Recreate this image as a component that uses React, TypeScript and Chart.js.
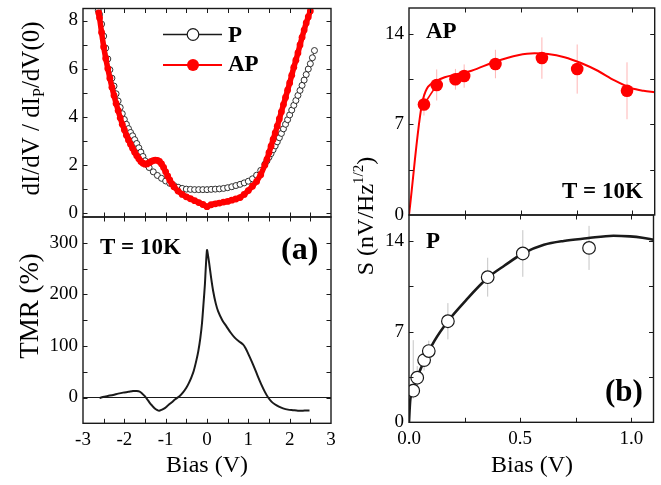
import React, { useEffect, useRef } from "react";
import { Chart, registerables } from "chart.js";

Chart.register(...registerables);

const W = 661;
const H = 485;
const FONT = "Liberation Serif, Times New Roman, serif";
Chart.defaults.font.family = FONT;
const RED = "#ff0000";
const INK = "#1a1a1a";
const Y_AXIS_W = 60;
const X_AXIS_H = 32;

// ---------- (a) top: dI/dV normalised ----------
const pBias = [-2.63, -2.6, -2.55, -2.5, -2.45, -2.4, -2.35, -2.3, -2.25, -2.2, -2.15, -2.1, -2.05, -2.0, -1.95, -1.9, -1.85, -1.8, -1.75, -1.7, -1.65, -1.6, -1.55, -1.5, -1.45, -1.4, -1.3, -1.2, -1.1, -1.0, -0.9, -0.8, -0.7, -0.6, -0.5, -0.4, -0.3, -0.2, -0.1, 0, 0.1, 0.2, 0.3, 0.4, 0.5, 0.6, 0.7, 0.8, 0.9, 1.0, 1.1, 1.2, 1.3, 1.4, 1.45, 1.5, 1.55, 1.6, 1.65, 1.7, 1.75, 1.8, 1.85, 1.9, 1.95, 2.0, 2.05, 2.1, 2.15, 2.2, 2.25, 2.3, 2.35, 2.4, 2.45, 2.5, 2.55, 2.6];
const pDidv = [8.42, 8.25, 7.85, 7.35, 6.85, 6.4, 5.95, 5.6, 5.27, 4.95, 4.65, 4.38, 4.12, 3.88, 3.68, 3.5, 3.34, 3.2, 3.04, 2.88, 2.7, 2.52, 2.34, 2.16, 2.0, 1.88, 1.7, 1.55, 1.43, 1.32, 1.22, 1.13, 1.06, 1.01, 0.98, 0.97, 0.96, 0.96, 0.96, 0.96, 0.97, 0.98, 0.99, 1.01, 1.04, 1.08, 1.13, 1.18, 1.24, 1.31, 1.41, 1.56, 1.76, 2.02, 2.16, 2.31, 2.46, 2.62, 2.78, 2.95, 3.12, 3.3, 3.49, 3.68, 3.87, 4.07, 4.27, 4.47, 4.67, 4.88, 5.09, 5.3, 5.52, 5.75, 5.98, 6.2, 6.45, 6.75];

const apBias = [-2.62, -2.6, -2.55, -2.5, -2.45, -2.4, -2.35, -2.3, -2.25, -2.2, -2.15, -2.1, -2.05, -2.0, -1.95, -1.9, -1.85, -1.8, -1.75, -1.7, -1.65, -1.6, -1.55, -1.5, -1.45, -1.4, -1.35, -1.3, -1.25, -1.2, -1.15, -1.1, -1.05, -1.0, -0.95, -0.9, -0.85, -0.8, -0.7, -0.6, -0.5, -0.4, -0.3, -0.2, -0.1, 0, 0.1, 0.2, 0.3, 0.4, 0.5, 0.6, 0.7, 0.8, 0.9, 1.0, 1.1, 1.2, 1.3, 1.4, 1.45, 1.5, 1.55, 1.6, 1.65, 1.7, 1.75, 1.8, 1.85, 1.9, 1.95, 2.0, 2.05, 2.1, 2.15, 2.2, 2.25, 2.3, 2.35, 2.4, 2.45, 2.5];
const apDidv = [8.32, 8.12, 7.5, 6.9, 6.42, 6.0, 5.6, 5.22, 4.88, 4.55, 4.25, 3.95, 3.68, 3.45, 3.22, 3.03, 2.85, 2.68, 2.52, 2.37, 2.24, 2.13, 2.06, 2.02, 2.03, 2.08, 2.13, 2.17, 2.19, 2.18, 2.13, 2.03, 1.88, 1.7, 1.52, 1.35, 1.2, 1.08, 0.9, 0.76, 0.66, 0.58, 0.5, 0.42, 0.34, 0.25, 0.33, 0.37, 0.4, 0.44, 0.47, 0.52, 0.57, 0.63, 0.76, 0.92, 1.1, 1.3, 1.58, 1.98, 2.22, 2.5, 2.77, 3.05, 3.32, 3.6, 3.9, 4.2, 4.5, 4.8, 5.1, 5.4, 5.72, 6.05, 6.35, 6.65, 6.98, 7.3, 7.6, 7.9, 8.15, 8.4];

// ---------- (a) bottom: TMR ----------
const tmrBias = [-2.6, -2.52, -2.4, -2.27, -2.15, -2.03, -1.9, -1.79, -1.7, -1.63, -1.57, -1.51, -1.45, -1.39, -1.33, -1.27, -1.2, -1.16, -1.1, -1.02, -0.94, -0.86, -0.76, -0.66, -0.58, -0.5, -0.44, -0.38, -0.32, -0.26, -0.21, -0.16, -0.12, -0.08, -0.05, -0.03, 0, 0.02, 0.05, 0.1, 0.15, 0.21, 0.27, 0.37, 0.47, 0.57, 0.67, 0.77, 0.87, 0.93, 0.99, 1.07, 1.15, 1.23, 1.31, 1.4, 1.48, 1.56, 1.64, 1.74, 1.84, 1.96, 2.08, 2.2, 2.32, 2.4, 2.48];
const tmrValue = [-1, 1, 3, 5, 7.5, 9.5, 11, 12.5, 12.5, 11.5, 8, 3, -3, -9.7, -15.5, -20.6, -24.5, -25.8, -24, -20.6, -15, -9.7, -3, 3, 10, 19, 28, 38.7, 52, 71, 90, 116, 145, 187, 220, 251, 286, 278, 262, 232, 206, 183, 167, 150, 138, 126, 116, 109, 103, 96, 86, 72, 57, 41, 26, 11, 0, -8, -13, -17.5, -21, -23.5, -24.5, -25.5, -25.5, -25, -25];
const zeroBias = [-3, 3];
const zeroValue = [0, 0];

// ---------- (b) top: AP noise ----------
const apNoiseBias = [0.067, 0.124, 0.208, 0.247, 0.387, 0.595, 0.753, 0.976];
const apNoise = [8.54, 10.05, 10.49, 10.74, 11.67, 12.13, 11.28, 9.6];
const apNoiseErr = [0.85, 1.2, 0.8, 0.9, 1.1, 1.6, 1.9, 2.2];
const apFitBias = [0, 0.062, 0.124, 0.16, 0.207, 0.28, 0.387, 0.488, 0.562, 0.622, 0.696, 0.77, 0.845, 0.92, 0.994, 1.05, 1.1];
const apFit = [0, 8.9, 10.35, 10.65, 10.85, 11.15, 11.86, 12.35, 12.5, 12.45, 12.2, 11.75, 11.15, 10.4, 9.82, 9.6, 9.49];

// ---------- (b) bottom: P noise ----------
const pNoiseBias = [0.019, 0.037, 0.068, 0.089, 0.175, 0.354, 0.512, 0.81];
const pNoise = [2.44, 3.44, 4.8, 5.5, 7.8, 11.2, 13.03, 13.46];
const pNoiseErrUp = [3.9, 0.9, 0.8, 0.8, 1.4, 1.5, 1.8, 1.7];
const pNoiseErrDown = [0.6, 0.9, 0.8, 0.8, 1.4, 1.5, 1.8, 1.7];
const pFitBias = [0, 0.005, 0.016, 0.04, 0.07, 0.115, 0.175, 0.25, 0.354, 0.43, 0.512, 0.607, 0.696, 0.8, 0.92, 0.994, 1.05, 1.1];
const pFit = [0, 1.6, 2.4, 3.6, 4.8, 6.3, 7.8, 9.3, 11.15, 12.1, 13.03, 13.7, 14.0, 14.2, 14.4, 14.35, 14.25, 14.1];

// ---------- ticks ----------
const biasTicks = [-3, -2, -1, 0, 1, 2, 3];
const biasMarks = [-2.5, -2, -1.5, -1, -0.5, 0, 0.5, 1, 1.5, 2, 2.5];
const didvTicks = [0, 2, 4, 6, 8];
const didvMarks = [0, 1, 2, 3, 4, 5, 6, 7, 8];
const tmrTicks = [0, 100, 200, 300];
const tmrMarks = [0, 50, 100, 150, 200, 250, 300];
const noiseBiasTicks = [0, 0.5, 1.0];
const noiseBiasMarks = [0.25, 0.5, 0.75, 1.0];
const noiseTicks = [0, 7, 14];
const noiseMarks = [3.5, 7, 10.5, 14];

const pts = (xs: number[], ys: number[]) => xs.map((x, i) => ({ x, y: ys[i] }));

type Box = { l: number; t: number; r: number; b: number };

function axis(min: number, max: number, ticks: number[], show: boolean, fmt?: (v: number) => string) {
  return {
    type: "linear",
    min,
    max,
    grid: { display: false, drawTicks: false },
    border: { display: false },
    ticks: {
      display: show,
      autoSkip: false,
      maxRotation: 0,
      color: "#000",
      font: { family: FONT, size: 19, weight: "normal" },
      padding: 5,
      callback: (v: any) => (fmt ? fmt(Number(v)) : String(v)),
    },
    afterBuildTicks: (s: any) => {
      s.ticks = ticks.map((v) => ({ value: v }));
    },
    afterFit: (s: any) => {
      if (s.isHorizontal()) s.height = X_AXIS_H;
      else s.width = Y_AXIS_W;
      s.paddingTop = 0;
      s.paddingBottom = 0;
      s.paddingLeft = 0;
      s.paddingRight = 0;
    },
  };
}

type Part = { t: string; size: number; dy?: number; bold?: boolean };

function drawRich(ctx: CanvasRenderingContext2D, parts: Part[], x: number, y: number, rot: number) {
  ctx.save();
  ctx.translate(x, y);
  ctx.rotate(rot);
  ctx.textBaseline = "alphabetic";
  ctx.fillStyle = "#000";
  let total = 0;
  for (const p of parts) {
    ctx.font = `${p.bold ? "bold " : ""}${p.size}px ${FONT}`;
    total += ctx.measureText(p.t).width;
  }
  let cx = -total / 2;
  for (const p of parts) {
    ctx.font = `${p.bold ? "bold " : ""}${p.size}px ${FONT}`;
    ctx.textAlign = "left";
    ctx.fillText(p.t, cx, p.dy || 0);
    cx += ctx.measureText(p.t).width;
  }
  ctx.restore();
}

function boldText(ctx: CanvasRenderingContext2D, t: string, x: number, y: number, size: number) {
  ctx.save();
  ctx.font = `bold ${size}px ${FONT}`;
  ctx.fillStyle = "#000";
  ctx.textAlign = "left";
  ctx.textBaseline = "middle";
  ctx.fillText(t, x, y);
  ctx.restore();
}

function framePlugin(id: string, xMarks: number[], yMarks: number[], extra?: (ctx: CanvasRenderingContext2D, chart: any) => void) {
  return {
    id,
    afterDraw(chart: any) {
      const { ctx, chartArea: a } = chart;
      const xs = chart.scales.x;
      const ys = chart.scales.y;
      const TL = 4.5;
      ctx.save();
      ctx.strokeStyle = INK;
      ctx.lineWidth = 1;
      ctx.beginPath();
      for (const v of xMarks) {
        const px = Math.round(xs.getPixelForValue(v)) + 0.5;
        ctx.moveTo(px, a.bottom);
        ctx.lineTo(px, a.bottom - TL);
        ctx.moveTo(px, a.top);
        ctx.lineTo(px, a.top + TL);
      }
      for (const v of yMarks) {
        const py = Math.round(ys.getPixelForValue(v)) + 0.5;
        ctx.moveTo(a.left, py);
        ctx.lineTo(a.left + TL, py);
        ctx.moveTo(a.right, py);
        ctx.lineTo(a.right - TL, py);
      }
      ctx.stroke();
      ctx.lineWidth = 1.4;
      ctx.strokeRect(a.left, a.top, a.right - a.left, a.bottom - a.top);
      if (extra) extra(ctx, chart);
      ctx.restore();
    },
  };
}

function errorPlugin(id: string, xs: number[], ys: number[], up: number[], down: number[], color: string) {
  return {
    id,
    beforeDatasetsDraw(chart: any) {
      const { ctx, chartArea: a } = chart;
      const sx = chart.scales.x;
      const sy = chart.scales.y;
      ctx.save();
      ctx.beginPath();
      ctx.rect(a.left, a.top, a.right - a.left, a.bottom - a.top);
      ctx.clip();
      ctx.strokeStyle = color;
      ctx.lineWidth = 1;
      ctx.beginPath();
      xs.forEach((x, i) => {
        const px = sx.getPixelForValue(x);
        ctx.moveTo(px, sy.getPixelForValue(ys[i] - down[i]));
        ctx.lineTo(px, sy.getPixelForValue(ys[i] + up[i]));
      });
      ctx.stroke();
      ctx.restore();
    },
  };
}

function padOf(b: Box) {
  return { left: b.l - Y_AXIS_W, top: b.t, right: W - b.r, bottom: H - b.b - X_AXIS_H };
}

function baseOptions(b: Box, x: any, y: any) {
  return {
    responsive: false,
    animation: false,
    devicePixelRatio: 1,
    layout: { padding: padOf(b) },
    plugins: { legend: { display: false }, tooltip: { enabled: false } },
    events: [],
    scales: { x, y },
  };
}

export default function App() {
  const r1 = useRef<HTMLCanvasElement>(null);
  const r2 = useRef<HTMLCanvasElement>(null);
  const r3 = useRef<HTMLCanvasElement>(null);
  const r4 = useRef<HTMLCanvasElement>(null);

  useEffect(() => {
    const charts: Chart[] = [];

    // top-left: dI/dV
    charts.push(
      new Chart(r1.current!, {
        type: "scatter",
        data: {
          datasets: [
            {
              data: pts(apBias, apDidv),
              showLine: true,
              borderColor: RED,
              borderWidth: 5.5,
              pointRadius: 3.4,
              pointBackgroundColor: RED,
              pointBorderWidth: 0,
            },
            {
              data: pts(pBias, pDidv),
              showLine: true,
              borderColor: INK,
              borderWidth: 0.8,
              pointRadius: 3,
              pointBackgroundColor: "#fff",
              pointBorderColor: INK,
              pointBorderWidth: 0.9,
            },
          ],
        },
        options: baseOptions({ l: 83, t: 8.5, r: 331, b: 217 }, axis(-3, 3, biasTicks, false), axis(-0.18, 8.5, didvTicks, true)) as any,
        plugins: [
          framePlugin("f1", biasMarks, didvMarks, (ctx) => {
            drawRich(ctx, [{ t: "dI/dV / dI", size: 25 }, { t: "P", size: 16, dy: 5 }, { t: "/dV(0)", size: 25 }], 39, 108.5, -Math.PI / 2);
            // legend
            ctx.lineWidth = 1.6;
            ctx.strokeStyle = INK;
            ctx.beginPath();
            ctx.moveTo(163, 34.5);
            ctx.lineTo(222, 34.5);
            ctx.stroke();
            ctx.beginPath();
            ctx.arc(193, 34.5, 5.8, 0, Math.PI * 2);
            ctx.fillStyle = "#fff";
            ctx.fill();
            ctx.lineWidth = 1.2;
            ctx.stroke();
            ctx.strokeStyle = RED;
            ctx.lineWidth = 1.8;
            ctx.beginPath();
            ctx.moveTo(163, 65);
            ctx.lineTo(222, 65);
            ctx.stroke();
            ctx.beginPath();
            ctx.arc(193, 65, 6, 0, Math.PI * 2);
            ctx.fillStyle = RED;
            ctx.fill();
            boldText(ctx, "P", 228, 36, 23);
            boldText(ctx, "AP", 228, 65, 23);
          }),
        ] as any,
      })
    );

    // bottom-left: TMR
    charts.push(
      new Chart(r2.current!, {
        type: "scatter",
        data: {
          datasets: [
            {
              data: pts(tmrBias, tmrValue),
              showLine: true,
              borderColor: INK,
              borderWidth: 2,
              pointRadius: 0,
              tension: 0.25,
            },
            {
              data: pts(zeroBias, zeroValue),
              showLine: true,
              borderColor: INK,
              borderWidth: 1,
              pointRadius: 0,
            },
          ],
        },
        options: baseOptions({ l: 83, t: 217, r: 331, b: 423.3 }, axis(-3, 3, biasTicks, true), axis(-50, 350, tmrTicks, true)) as any,
        plugins: [
          framePlugin("f2", biasMarks, tmrMarks, (ctx) => {
            drawRich(ctx, [{ t: "TMR (%)", size: 27 }], 37.5, 306, -Math.PI / 2);
            drawRich(ctx, [{ t: "Bias (V)", size: 24 }], 207, 472, 0);
            boldText(ctx, "T = 10K", 100, 248, 23);
            boldText(ctx, "(a)", 281, 251, 32);
          }),
        ] as any,
      })
    );

    // top-right: AP noise
    charts.push(
      new Chart(r3.current!, {
        type: "scatter",
        data: {
          datasets: [
            {
              data: pts(apNoiseBias, apNoise),
              pointRadius: 6.3,
              pointBackgroundColor: RED,
              pointBorderWidth: 0,
            },
            {
              data: pts(apNoiseBias.slice(0, 2), apNoise.slice(0, 2)),
              showLine: true,
              borderColor: RED,
              borderWidth: 1.5,
              pointRadius: 0,
            },
            {
              data: pts(apFitBias, apFit),
              showLine: true,
              borderColor: RED,
              borderWidth: 2,
              pointRadius: 0,
              cubicInterpolationMode: "monotone",
            },
          ],
        },
        options: baseOptions({ l: 409, t: 8, r: 655, b: 215 }, axis(0, 1.1, noiseBiasTicks, false), axis(0, 16, noiseTicks, true)) as any,
        plugins: [
          errorPlugin("e3", apNoiseBias, apNoise, apNoiseErr, apNoiseErr, "rgba(255,90,90,0.45)"),
          framePlugin("f3", noiseBiasMarks, noiseMarks, (ctx) => {
            drawRich(ctx, [{ t: "S (nV/Hz", size: 24 }, { t: "1/2", size: 15, dy: -10 }, { t: ")", size: 24 }], 373, 216, -Math.PI / 2);
            boldText(ctx, "AP", 426, 32, 23);
            boldText(ctx, "T = 10K", 562, 192, 23);
          }),
        ] as any,
      })
    );

    // bottom-right: P noise
    charts.push(
      new Chart(r4.current!, {
        type: "scatter",
        data: {
          datasets: [
            {
              data: pts(pNoiseBias, pNoise),
              pointRadius: 6.3,
              pointBackgroundColor: "#fff",
              pointBorderColor: INK,
              pointBorderWidth: 1.2,
            },
            {
              data: pts(pFitBias, pFit),
              showLine: true,
              borderColor: INK,
              borderWidth: 2.6,
              pointRadius: 0,
              cubicInterpolationMode: "monotone",
            },
          ],
        },
        options: baseOptions({ l: 409, t: 215, r: 655, b: 422.3 }, axis(0, 1.1, noiseBiasTicks, true, (v) => v.toFixed(1)), axis(0, 16, noiseTicks, true)) as any,
        plugins: [
          errorPlugin("e4", pNoiseBias, pNoise, pNoiseErrUp, pNoiseErrDown, "rgba(150,150,150,0.55)"),
          framePlugin("f4", noiseBiasMarks, noiseMarks, (ctx) => {
            drawRich(ctx, [{ t: "Bias (V)", size: 24 }], 532, 472, 0);
            boldText(ctx, "P", 426, 242, 23);
            boldText(ctx, "(b)", 605, 393, 31);
          }),
        ] as any,
      })
    );

    return () => {
      charts.forEach((c) => c.destroy());
    };
  }, []);

  const cv: React.CSSProperties = { position: "absolute", left: 0, top: 0, width: W, height: H };
  return (
    <div style={{ position: "absolute", left: 0, top: 0, width: W, height: H, background: "#fff", overflow: "hidden" }}>
      <canvas ref={r1} width={W} height={H} style={cv} />
      <canvas ref={r2} width={W} height={H} style={cv} />
      <canvas ref={r3} width={W} height={H} style={cv} />
      <canvas ref={r4} width={W} height={H} style={cv} />
    </div>
  );
}
